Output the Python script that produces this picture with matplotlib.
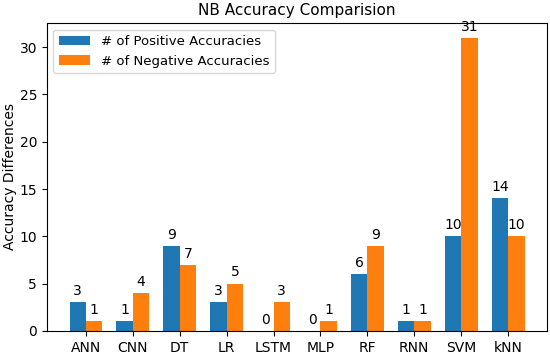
import matplotlib
matplotlib.use("Agg")
import matplotlib.pyplot as plt
import numpy as np

models = ["ANN", "CNN", "DT", "LR", "LSTM", "MLP", "RF", "RNN", "SVM", "kNN"]
positive = [3, 1, 9, 3, 0, 0, 6, 1, 10, 14]
negative = [1, 4, 7, 5, 3, 1, 9, 1, 31, 10]

x = np.arange(len(models))
width = 0.35

fig, ax = plt.subplots(figsize=(5.5, 3.55), dpi=100)
b1 = ax.bar(x - width / 2, positive, width, label="# of Positive Accuracies")
b2 = ax.bar(x + width / 2, negative, width, label="# of Negative Accuracies")

for bars in (b1, b2):
    for bar in bars:
        h = bar.get_height()
        ax.annotate(f"{h:.0f}", xy=(bar.get_x() + bar.get_width() / 2, h),
                    xytext=(0, 3), textcoords="offset points",
                    ha="center", va="bottom")

ax.set_xticks(x)
ax.set_xticklabels(models)
ax.set_ylabel("Accuracy Differences", labelpad=2)
ax.set_title("NB Accuracy Comparision", fontsize=11)
ax.legend(loc="upper left", fontsize=9.5, handlelength=2.4)

fig.subplots_adjust(left=0.085, right=0.995, top=0.935, bottom=0.068)
fig.savefig("out.png", dpi=100)
